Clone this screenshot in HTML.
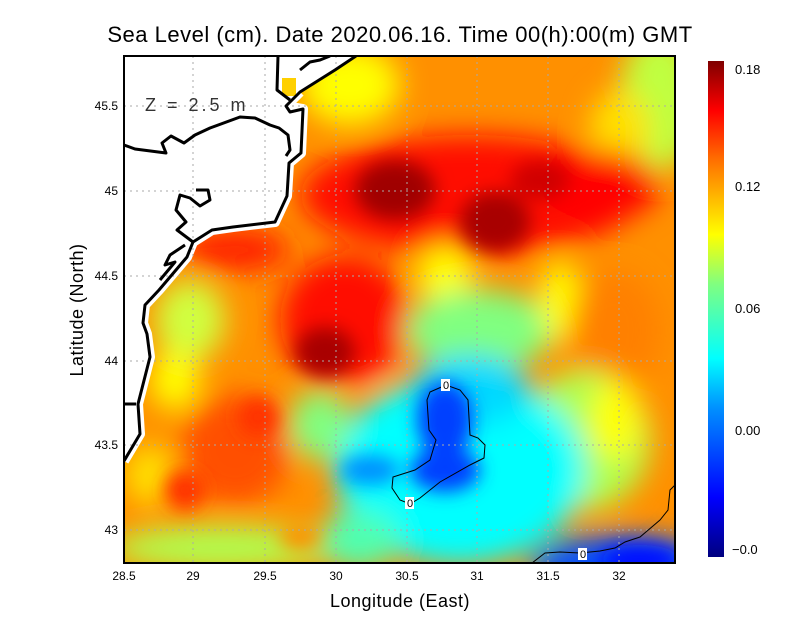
<!DOCTYPE html>
<html><head><style>
body{margin:0;background:#fff;}
svg{display:block;font-family:"Liberation Sans",sans-serif;}
</style></head><body>
<svg width="800" height="618" viewBox="0 0 800 618" xmlns="http://www.w3.org/2000/svg">
<defs>
<clipPath id="pc"><rect x="124" y="56" width="551" height="507"/></clipPath>
<filter id="b1" x="-30%" y="-30%" width="160%" height="160%"><feGaussianBlur stdDeviation="14"/></filter>
<filter id="b2" x="-30%" y="-30%" width="160%" height="160%"><feGaussianBlur stdDeviation="9"/></filter>
<linearGradient id="cb" x1="0" y1="1" x2="0" y2="0">
<stop offset="0" stop-color="#00007f"/><stop offset="0.12" stop-color="#0000ff"/>
<stop offset="0.3" stop-color="#0090ff"/><stop offset="0.4" stop-color="#00ffff"/>
<stop offset="0.55" stop-color="#80ff80"/><stop offset="0.65" stop-color="#ffff00"/>
<stop offset="0.8" stop-color="#ff7000"/><stop offset="0.9" stop-color="#ff0000"/>
<stop offset="1" stop-color="#7f0000"/></linearGradient>
</defs>
<g clip-path="url(#pc)">
<rect x="100" y="40" width="600" height="540" fill="#ff9000"/>
<g filter="url(#b1)">
<ellipse cx="350" cy="85" rx="50" ry="40" fill="#ffff00"/>
<ellipse cx="660" cy="100" rx="40" ry="70" fill="#c0ff40"/>
<ellipse cx="620" cy="130" rx="30" ry="40" fill="#ffe000"/>
<ellipse cx="470" cy="195" rx="170" ry="60" fill="#ff1000"/>
<ellipse cx="600" cy="185" rx="60" ry="35" fill="#ff0000"/>
<ellipse cx="235" cy="250" rx="55" ry="22" fill="#ff2000"/>
<ellipse cx="345" cy="320" rx="65" ry="65" fill="#ff1000"/>
<ellipse cx="445" cy="275" rx="28" ry="30" fill="#ffff00"/>
<ellipse cx="480" cy="330" rx="75" ry="40" fill="#80ff80"/>
<ellipse cx="560" cy="300" rx="20" ry="40" fill="#ffff00"/>
<ellipse cx="615" cy="330" rx="45" ry="60" fill="#ff8000"/>
<ellipse cx="585" cy="440" rx="65" ry="70" fill="#b0ff50"/>
<ellipse cx="615" cy="420" rx="25" ry="40" fill="#ffff00"/>
<ellipse cx="460" cy="470" rx="125" ry="95" fill="#00ffff"/>
<ellipse cx="470" cy="390" rx="60" ry="35" fill="#00d8ff"/>
<ellipse cx="620" cy="565" rx="90" ry="30" fill="#0050ff"/>
<ellipse cx="190" cy="320" rx="35" ry="40" fill="#d0ff40"/>
<ellipse cx="175" cy="380" rx="25" ry="30" fill="#ffff00"/>
<ellipse cx="320" cy="425" rx="30" ry="35" fill="#80ff80"/>
<ellipse cx="235" cy="450" rx="55" ry="55" fill="#ff5000"/>
<ellipse cx="150" cy="475" rx="25" ry="30" fill="#ffe000"/>
<ellipse cx="220" cy="548" rx="110" ry="22" fill="#b0ff50"/>
<ellipse cx="360" cy="540" rx="40" ry="30" fill="#50ffb0"/>
</g>
<g filter="url(#b2)">
<ellipse cx="395" cy="190" rx="40" ry="30" fill="#a00000"/>
<ellipse cx="495" cy="222" rx="35" ry="30" fill="#a80000"/>
<ellipse cx="540" cy="180" rx="30" ry="20" fill="#d00000"/>
<ellipse cx="325" cy="352" rx="30" ry="25" fill="#a80000"/>
<ellipse cx="445" cy="420" rx="28" ry="38" fill="#0040ff"/>
<ellipse cx="445" cy="470" rx="35" ry="22" fill="#0040ff"/>
<ellipse cx="370" cy="470" rx="30" ry="15" fill="#0090ff"/>
<ellipse cx="640" cy="560" rx="40" ry="15" fill="#0010ff"/>
<ellipse cx="185" cy="490" rx="20" ry="20" fill="#ff3000"/>
<ellipse cx="258" cy="417" rx="20" ry="20" fill="#ff3000"/>
<ellipse cx="300" cy="537" rx="20" ry="12" fill="#ff9000"/>
</g>
<path d="M124,56 L356,56 L335,70 L300,92 L286,106 L303,109 L301,153 L289,163 L287,196 L275,222 L233,227 L212,230 L193,242 L187,257 L159,290 L145,305 L143,323 L147,334 L150,357 L138,404 L140,434 L124,461 Z" fill="#fff"/>
<path d="M300,92 L286,106 L303,109 L301,153 L289,163 L287,196 L275,222 L233,227 L212,230 L193,242 L187,257 L159,290 L145,305 L143,323 L147,334 L150,357 L138,404 L140,434 L124,461" fill="none" stroke="#fff" stroke-width="10" stroke-linejoin="round"/>
<rect x="282" y="78" width="14" height="18" fill="#ffd000"/>
<g stroke="#aaa" stroke-dasharray="2,4" stroke-width="1">
<line x1="193" y1="56" x2="193" y2="563"/><line x1="265" y1="56" x2="265" y2="563"/>
<line x1="336" y1="56" x2="336" y2="563"/><line x1="407" y1="56" x2="407" y2="563"/>
<line x1="477" y1="56" x2="477" y2="563"/><line x1="548" y1="56" x2="548" y2="563"/>
<line x1="619" y1="56" x2="619" y2="563"/>
<line x1="124" y1="106" x2="675" y2="106"/><line x1="124" y1="191" x2="675" y2="191"/>
<line x1="124" y1="276" x2="675" y2="276"/><line x1="124" y1="361" x2="675" y2="361"/>
<line x1="124" y1="445" x2="675" y2="445"/><line x1="124" y1="530" x2="675" y2="530"/>
</g>
<g fill="none" stroke="#000" stroke-width="3" stroke-linejoin="round">
<path d="M356,56 L335,70 L300,92 L286,106 L290,112 L303,109 L301,153 L289,163 L287,196 L275,222 L233,227 L212,230 L193,242 L187,257 L159,290 L145,305 L143,323 L147,334 L150,357 L138,404 L140,434 L124,461"/>
<path d="M124,145 L135,149 L166,153 L162,143 L171,136 L184,143 L195,135 L210,128 L240,117 L255,118 L270,125 L279,128 L288,135 L290,150 L286,156"/>
<path d="M278,56 L277,90 L290,100"/>
<path d="M300,70 L310,62 L320,60 L330,56"/>
<path d="M193,242 L177,230 L186,222 L176,210 L180,195 L190,198 L200,206 L210,200 L208,190 L196,190"/>
<path d="M185,245 L170,255 L165,265 L175,262 L160,280"/>
<path d="M124,404 L136,404"/>
</g>
<g fill="none" stroke="#000" stroke-width="1">
<path d="M446,385 L430,392 L427,400 L429,430 L436,440 L430,460 L415,470 L393,477 L392,488 L400,500 L410,504 L420,498 L440,482 L470,465 L484,458 L485,445 L478,438 L470,435 L468,400 L460,390 Z"/>
<path d="M532,563 L545,553 L560,552 L580,553 L600,551 L615,548 L625,542 L640,537 L660,520 L668,510 L670,490 L675,485"/>
</g>
<g font-size="11" text-anchor="middle">
<rect x="441" y="379" width="9" height="12" fill="#fff"/><text x="446" y="389">0</text>
<rect x="405" y="497" width="9" height="12" fill="#fff"/><text x="410" y="507">0</text>
<rect x="578" y="548" width="9" height="12" fill="#fff"/><text x="583" y="558">0</text>
</g>
<text x="145" y="111" font-size="18" fill="#333" letter-spacing="3">Z = 2.5 m</text>
</g>
<rect x="124" y="56" width="551" height="507" fill="none" stroke="#000" stroke-width="2"/>
<rect x="708" y="61" width="16" height="496" fill="url(#cb)"/>
<g font-size="13" fill="#000">
<text x="735" y="74">0.18</text><text x="735" y="191">0.12</text>
<text x="735" y="313">0.06</text><text x="735" y="435">0.00</text>
<text x="732" y="554">−0.0</text>
</g>
<g font-size="12" text-anchor="middle">
<text x="124" y="580">28.5</text><text x="193" y="580">29</text><text x="265" y="580">29.5</text>
<text x="336" y="580">30</text><text x="407" y="580">30.5</text><text x="477" y="580">31</text>
<text x="548" y="580">31.5</text><text x="619" y="580">32</text>
</g>
<g font-size="12" text-anchor="end">
<text x="118" y="110">45.5</text><text x="118" y="195">45</text><text x="118" y="280">44.5</text>
<text x="118" y="365">44</text><text x="118" y="449">43.5</text><text x="118" y="534">43</text>
</g>
<text x="400" y="42" font-size="22" text-anchor="middle" letter-spacing="0.5">Sea Level (cm). Date 2020.06.16. Time 00(h):00(m) GMT</text>
<text x="400" y="607" font-size="18" text-anchor="middle" letter-spacing="0.5">Longitude (East)</text>
<text transform="translate(83,310) rotate(-90)" font-size="18" text-anchor="middle" letter-spacing="0.5">Latitude (North)</text>
</svg>
</body></html>
